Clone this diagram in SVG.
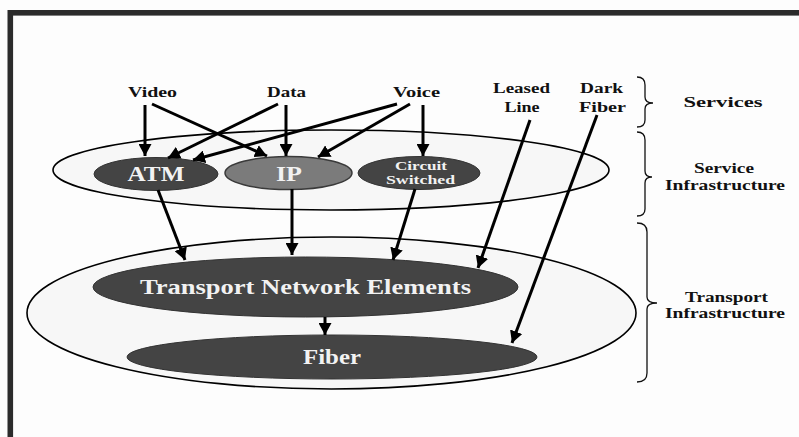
<svg xmlns="http://www.w3.org/2000/svg" width="799" height="437" viewBox="0 0 799 437">
<style>
  text { font-family: "Liberation Serif", "Times New Roman", serif; font-weight: bold; }
  .lbl { font-size: 14px; fill: #111; text-anchor: middle; }
  .side { font-size: 14px; fill: #111; text-anchor: middle; }
  .wt { fill: #f2f2f2; text-anchor: middle; }
  .cont { fill: #f7f7f7; stroke: #000; stroke-width: 1.6; }
  .dark { fill: #444; stroke: #333; stroke-width: 1; }
  .conn { stroke: #000; stroke-width: 3; fill: none; marker-end: url(#ah); }
  .brace { stroke: #111; stroke-width: 1.3; fill: none; }
</style>
<defs>
  <marker id="ah" markerUnits="userSpaceOnUse" markerWidth="13" markerHeight="13" refX="12" refY="6.5" orient="auto">
    <path d="M0,0 L12,6.5 L0,13 z" fill="#000"/>
  </marker>
</defs>
<rect x="0" y="0" width="799" height="437" fill="#fdfdfd"/>
<rect x="10.3" y="12.8" width="900" height="500" fill="none" stroke="#2b2b2b" stroke-width="5.6"/>

<g id="transport-infrastructure">
  <ellipse class="cont" cx="331.5" cy="313" rx="304.5" ry="76"/>
</g>
<g id="service-infrastructure">
  <ellipse class="cont" cx="331" cy="170" rx="278" ry="40"/>
</g>

<g id="atm">
  <ellipse class="dark" cx="156" cy="174" rx="62" ry="16.5"/>
  <text class="wt" x="156" y="180.5" font-size="20" textLength="57" lengthAdjust="spacingAndGlyphs">ATM</text>
</g>
<g id="ip">
  <ellipse cx="288.5" cy="173" rx="63.5" ry="16.5" fill="#7b7b7b" stroke="#3a3a3a" stroke-width="1.5"/>
  <text class="wt" x="289" y="180.5" font-size="20" textLength="26" lengthAdjust="spacingAndGlyphs">IP</text>
</g>
<g id="circuit-switched">
  <ellipse class="dark" cx="419" cy="173" rx="61" ry="16.5"/>
  <text class="wt" x="421" y="170" font-size="13" textLength="52" lengthAdjust="spacingAndGlyphs">Circuit</text>
  <text class="wt" x="420.5" y="184" font-size="13" textLength="69" lengthAdjust="spacingAndGlyphs">Switched</text>
</g>
<g id="transport-network-elements">
  <ellipse class="dark" cx="305.5" cy="287" rx="212.5" ry="30"/>
  <text class="wt" x="305.5" y="293.5" font-size="20" textLength="331" lengthAdjust="spacingAndGlyphs">Transport Network Elements</text>
</g>
<g id="fiber">
  <ellipse class="dark" cx="332" cy="357" rx="205" ry="22"/>
  <text class="wt" x="332" y="363.5" font-size="20" textLength="58" lengthAdjust="spacingAndGlyphs">Fiber</text>
</g>

<g id="video"><text class="lbl" x="152.5" y="97" textLength="49" lengthAdjust="spacingAndGlyphs">Video</text></g>
<g id="data"><text class="lbl" x="286.5" y="97" textLength="39" lengthAdjust="spacingAndGlyphs">Data</text></g>
<g id="voice"><text class="lbl" x="416.5" y="97" textLength="47" lengthAdjust="spacingAndGlyphs">Voice</text></g>
<g id="leased-line">
  <text class="lbl" x="521.5" y="93" textLength="57" lengthAdjust="spacingAndGlyphs">Leased</text>
  <text class="lbl" x="522" y="112" textLength="35" lengthAdjust="spacingAndGlyphs">Line</text>
</g>
<g id="dark-fiber">
  <text class="lbl" x="601.5" y="93" textLength="43" lengthAdjust="spacingAndGlyphs">Dark</text>
  <text class="lbl" x="602.5" y="112" textLength="47" lengthAdjust="spacingAndGlyphs">Fiber</text>
</g>

<g id="connectors">
  <path class="conn" d="M145,105 L145,156"/>
  <path class="conn" d="M152,104 L267,156"/>
  <path class="conn" d="M278,104 L168,158"/>
  <path class="conn" d="M286,105 L286,156"/>
  <path class="conn" d="M397,104 L193,160"/>
  <path class="conn" d="M410,104 L318,157"/>
  <path class="conn" d="M423,105 L423,156"/>
  <path class="conn" d="M158,190 L185,260"/>
  <path class="conn" d="M292,189 L292,255"/>
  <path class="conn" d="M415,189 L393,260"/>
  <path class="conn" d="M530,120 L478,268"/>
  <path class="conn" d="M597,115 L512,343"/>
  <path class="conn" d="M325,317 L325,335"/>
</g>

<g id="services-brace">
  <path class="brace" d="M637,77 Q645,77 645,85 L645,97 Q645,103 653,103 Q645,103 645,109 L645,120 Q645,127 637,127"/>
  <text class="side" x="723" y="107" textLength="79" lengthAdjust="spacingAndGlyphs">Services</text>
</g>
<g id="service-infrastructure-brace">
  <path class="brace" d="M637,132 Q645,132 645,140 L645,171 Q645,177 652,177 Q645,177 645,183 L645,209 Q645,216 637,216"/>
  <text class="side" x="724" y="173" textLength="60" lengthAdjust="spacingAndGlyphs">Service</text>
  <text class="side" x="725" y="190" textLength="120" lengthAdjust="spacingAndGlyphs">Infrastructure</text>
</g>
<g id="transport-infrastructure-brace">
  <path class="brace" d="M637,223 Q647,223 647,232 L647,297 Q647,303 657,303 Q647,303 647,309 L647,373 Q647,382 637,382"/>
  <text class="side" x="726.5" y="302" textLength="83" lengthAdjust="spacingAndGlyphs">Transport</text>
  <text class="side" x="725" y="318" textLength="120" lengthAdjust="spacingAndGlyphs">Infrastructure</text>
</g>
</svg>
